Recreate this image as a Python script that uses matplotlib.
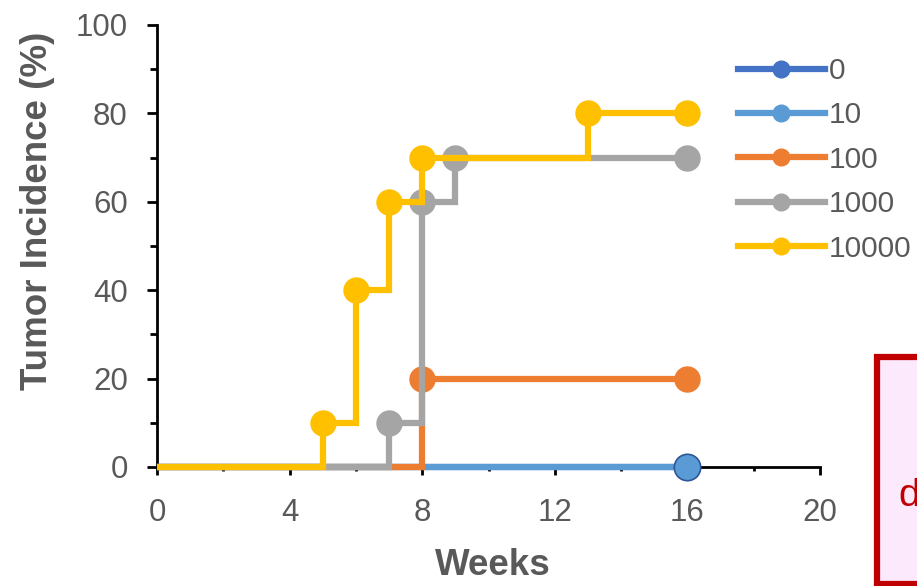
import matplotlib.pyplot as plt
from matplotlib.patches import Rectangle
from matplotlib.lines import Line2D

# ------------------------------------------------------------------ DATA
doses = ['0', '10', '100', '1000', '10000']
colors = ['#4472C4', '#5B9BD5', '#ED7D31', '#A5A5A5', '#FFC000']

weeks_0 = [0, 16]
inc_0 = [0, 0]
weeks_10 = [0, 16]
inc_10 = [0, 0]
weeks_100 = [0, 8, 16]
inc_100 = [0, 20, 20]
weeks_1000 = [0, 7, 8, 9, 16]
inc_1000 = [0, 10, 60, 70, 70]
weeks_10000 = [0, 5, 6, 7, 8, 13, 16]
inc_10000 = [0, 10, 40, 60, 70, 80, 80]

series = [(weeks_0, inc_0), (weeks_10, inc_10), (weeks_100, inc_100),
          (weeks_1000, inc_1000), (weeks_10000, inc_10000)]

x_ticks = [0, 4, 8, 12, 16, 20]
y_ticks = [0, 20, 40, 60, 80, 100]

# ------------------------------------------------------------------ FIGURE
plt.rcParams['font.family'] = ['Liberation Sans', 'DejaVu Sans']
grey_txt = '#595959'
lw = 4.5

fig = plt.figure(figsize=(9.17, 5.86), dpi=100)
ax = fig.add_axes([157/917, 1-467/586, (820-157)/917, (467-25)/586])

for i, (wk, inc) in enumerate(series):
    ax.step(wk, inc, where='post', color=colors[i], lw=lw,
            solid_joinstyle='miter', solid_capstyle='butt', zorder=2+i, clip_on=False)
    if i == 1:
        ax.plot(wk[1:], inc[1:], 'o', ms=19, mfc=colors[i], mec='#2F5597', mew=1.2,
                zorder=2+i, clip_on=False)
    else:
        ax.plot(wk[1:], inc[1:], 'o', ms=18, color=colors[i], zorder=2+i, clip_on=False)

ax.set_xlim(0, 20)
ax.set_ylim(0, 100)
ax.set_xticks(x_ticks)
ax.set_yticks(y_ticks)
ax.set_xticks(range(2, 20, 4), minor=True)
ax.set_yticks(range(10, 100, 20), minor=True)

for s in ['top', 'right']:
    ax.spines[s].set_visible(False)
for s in ['left', 'bottom']:
    ax.spines[s].set_linewidth(2)
    ax.spines[s].set_color('black')

ax.tick_params(which='both', direction='out', width=2, color='black',
               labelsize=22.5, labelcolor=grey_txt)
ax.tick_params(axis='y', which='major', length=7, pad=14)
ax.tick_params(axis='y', which='minor', length=5)
ax.tick_params(axis='x', which='major', length=6, pad=16)
ax.tick_params(axis='x', which='minor', length=3)

ax.set_xlabel('Weeks', fontsize=26.5, fontweight='bold', color=grey_txt)
ax.set_ylabel('Tumor Incidence (%)', fontsize=26.5, fontweight='bold', color=grey_txt)
ax.xaxis.set_label_coords((493-157)/663, (467-548)/442)
ax.yaxis.set_label_coords((55-157)/663, (467-211)/442)

handles = [Line2D([], [], color=c, lw=lw, marker='o', ms=12) for c in colors]
fig.legend(handles, doses, loc='upper left', bbox_to_anchor=(738/917, 1-57/586),
           frameon=False, fontsize=21.5, handlelength=2.9, handletextpad=0.13,
           labelspacing=0.55, borderpad=0, borderaxespad=0, labelcolor=grey_txt)

# partial annotation box at the right edge (cut off in the original too)
fig.patches.append(Rectangle((876.5/917, 1-583.5/586), 0.2, (583.5-356.5)/586,
                             transform=fig.transFigure, fc='#FCE9FC', ec='#C00000', lw=4.5))
fig.text(898/917, 1-496/586, 'd', fontsize=28, color='#C00000', va='center', ha='left')

fig.savefig('out.png', dpi=100)
